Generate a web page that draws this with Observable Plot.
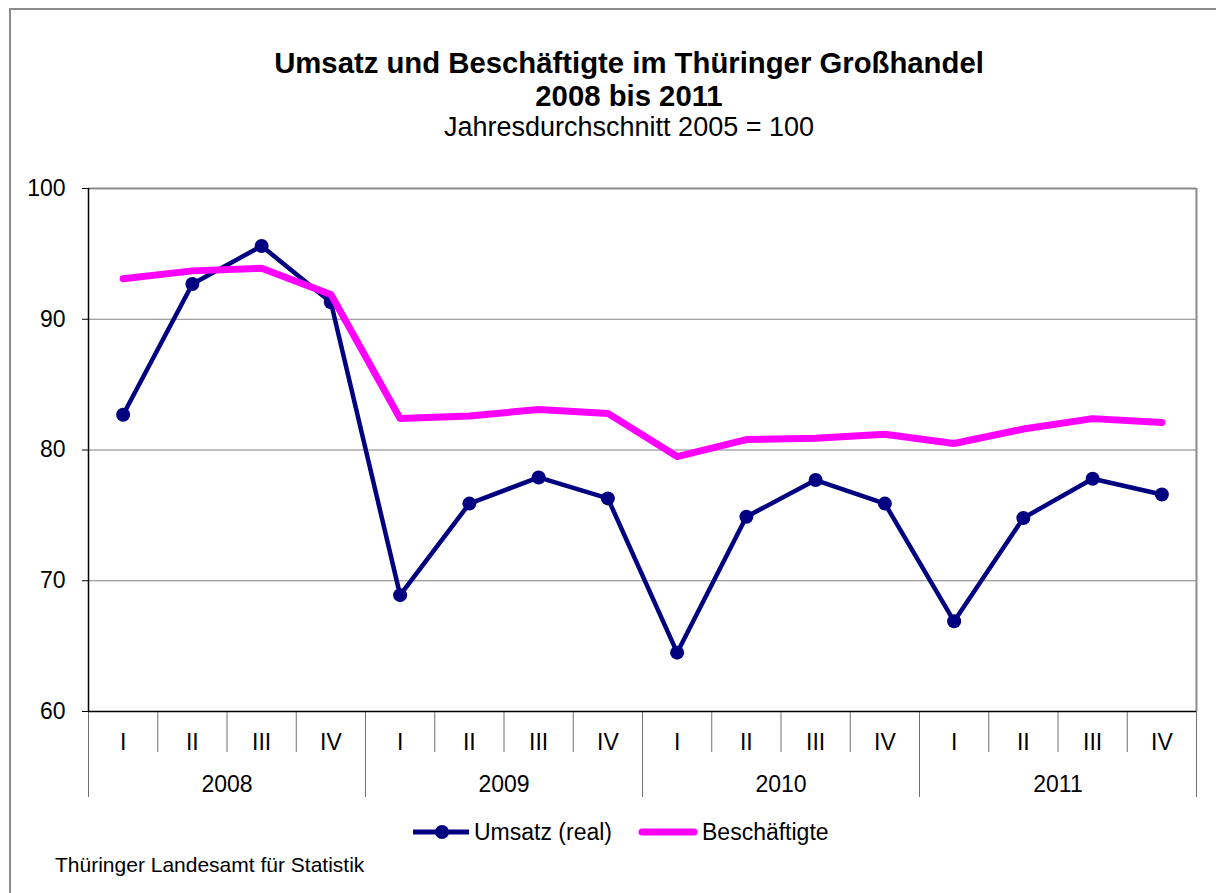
<!DOCTYPE html>
<html>
<head>
<meta charset="utf-8">
<script src="https://cdn.jsdelivr.net/npm/d3@7"></script>
<script src="https://cdn.jsdelivr.net/npm/@observablehq/plot@0.6"></script>
<style>
  html, body { margin: 0; padding: 0; background: #fff; }
  #wrap { position: relative; width: 1216px; height: 893px; overflow: hidden; font-family: "Liberation Sans", Arial, sans-serif; color: #000; }
  #frame { position: absolute; left: 9px; top: 8px; width: 1300px; height: 1000px; border-left: 2px solid #8c8c8c; border-top: 2px solid #8c8c8c; }
  .t { position: absolute; white-space: nowrap; }
  #title1, #title2 { left: 0; width: 1258px; text-align: center; font-weight: bold; font-size: 29.3px; }
  #title1 { top: 46px; }
  #title2 { top: 79px; }
  #sub { left: 0; width: 1258px; text-align: center; font-size: 27px; top: 112px; }
  #caption { left: 55px; top: 853px; font-size: 21px; }
  #legend { position: absolute; left: 412px; top: 816px; height: 32px; display: flex; align-items: center; font-size: 23px; }
  #legend svg { display: block; }
  #chart { position: absolute; left: 0; top: 0; }
</style>
</head>
<body>
<div id="wrap">
  <div id="frame"></div>
  <div id="chart"></div>
  <div class="t" id="title1">Umsatz und Beschäftigte im Thüringer Großhandel</div>
  <div class="t" id="title2">2008 bis 2011</div>
  <div class="t" id="sub">Jahresdurchschnitt 2005 = 100</div>
  <div id="legend"></div>
  <div class="t" id="caption">Thüringer Landesamt für Statistik</div>
</div>
<script>
// ---- data ----
const years = ["2008", "2009", "2010", "2011"];
const quarters = ["I", "II", "III", "IV"];
const umsatz = [82.7, 92.7, 95.6, 91.3, 68.9, 75.9, 77.9, 76.3, 64.5, 74.9, 77.7, 75.9, 66.9, 74.8, 77.8, 76.6];
const beschaeftigte = [93.1, 93.7, 93.9, 91.9, 82.4, 82.6, 83.1, 82.8, 79.5, 80.8, 80.9, 81.2, 80.5, 81.6, 82.4, 82.1];
const yTicks = [60, 70, 80, 90, 100];
const seriesNames = ["Umsatz (real)", "Beschäftigte"];
const colors = ["#000080", "#ff00ff"];

// ---- derived tables ----
const n = years.length * quarters.length;
const rows = d3.range(n).map(i => ({
  pos: i + 0.5,
  year: years[Math.floor(i / quarters.length)],
  quarter: quarters[i % quarters.length],
  umsatz: umsatz[i],
  besch: beschaeftigte[i]
}));
const quarterCenters = rows.map(d => d.pos);
const quarterBounds = d3.range(n + 1);
const yearBounds = d3.range(years.length + 1).map(i => i * quarters.length);
const yearCenters = years.map((y, i) => i * quarters.length + quarters.length / 2);

const chart = Plot.plot({
  width: 1216,
  height: 893,
  marginLeft: 88,
  marginRight: 20,
  marginTop: 188,
  marginBottom: 182,
  style: { fontFamily: "'Liberation Sans', Arial, sans-serif", fontSize: "23px", color: "#000", background: "transparent", overflow: "visible" },
  x: { type: "linear", domain: [0, n], axis: null },
  y: { domain: [60, 100], axis: null },
  marks: [
    Plot.ruleY(yTicks.filter(v => v > 60 && v < 100), { stroke: "#808080", strokeWidth: 1.2 }),
    Plot.ruleY([100], { stroke: "#8c8c8c", strokeWidth: 2 }),
    Plot.ruleX([n], { stroke: "#8c8c8c", strokeWidth: 2 }),
    Plot.axisY({ ticks: yTicks, tickSize: 6, tickPadding: 17, tickFormat: d => String(d), label: null, fontSize: 23, stroke: "#000" }),
    Plot.axisX(quarterBounds, { tickSize: 41, tickFormat: () => "", label: null, stroke: "#707070" }),
    Plot.axisX(yearBounds, { tickSize: 86, tickFormat: () => "", label: null, stroke: "#707070" }),
    Plot.axisX(quarterCenters, { tickSize: 0, tickPadding: 22, tickFormat: d => quarters[Math.floor(d) % quarters.length], label: null, fontSize: 23 }),
    Plot.axisX(yearCenters, { tickSize: 0, tickPadding: 64, tickFormat: d => years[Math.floor(d / quarters.length)], label: null, fontSize: 23 }),
    Plot.ruleX([0], { stroke: "#000", strokeWidth: 1.5 }),
    Plot.ruleY([60], { stroke: "#000", strokeWidth: 1.5 }),
    Plot.lineY(rows, { x: "pos", y: "umsatz", stroke: colors[0], strokeWidth: 4.5 }),
    Plot.dot(rows, { x: "pos", y: "umsatz", r: 7, fill: colors[0], stroke: "none" }),
    Plot.lineY(rows, { x: "pos", y: "besch", stroke: colors[1], strokeWidth: 7, strokeLinecap: "round", strokeLinejoin: "round" })
  ]
});
document.getElementById("chart").appendChild(chart);

// ---- legend ----
const legend = document.getElementById("legend");
legend.innerHTML = `
  <svg width="58" height="32"><line x1="1" y1="16" x2="57" y2="16" stroke="${colors[0]}" stroke-width="5"/><circle cx="30" cy="16" r="7" fill="${colors[0]}"/></svg>
  <span style="margin-left:4px">${seriesNames[0]}</span>
  <svg width="62" height="32" style="margin-left:26px"><line x1="4" y1="16" x2="56" y2="16" stroke="${colors[1]}" stroke-width="7" stroke-linecap="round"/></svg>
  <span style="margin-left:2px">${seriesNames[1]}</span>`;
</script>
</body>
</html>
